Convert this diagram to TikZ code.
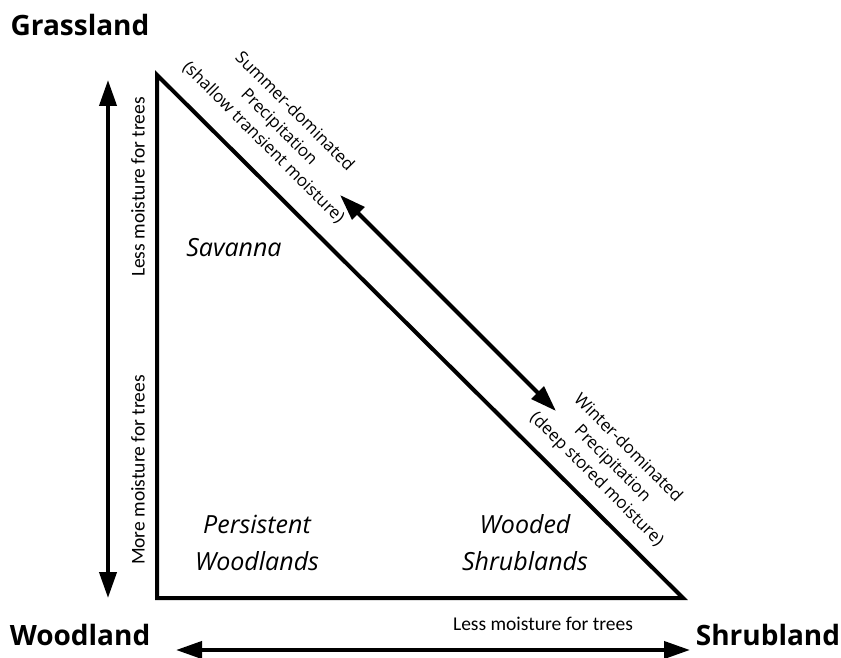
\documentclass[tikz,border=0pt]{standalone}
\usepackage{fontspec}
\setmainfont{Open Sans}
\newfontfamily\calfont{Carlito}
\usetikzlibrary{arrows.meta}
\begin{document}
\begin{tikzpicture}[x=1pt, y=-1pt,
  every node/.style={inner sep=0pt},
  biome/.style={font=\fontsize{28}{30}\selectfont\bfseries},
  zone/.style={font=\fontsize{25}{37}\selectfont\itshape, align=center},
  rain/.style={font=\fontsize{17}{22}\selectfont, align=center, rotate=-45},
  moist/.style={font=\calfont\fontsize{19.5}{21}\selectfont},
  gradient/.style={line width=4pt, {Triangle[length=26pt,width=17pt]}-{Triangle[length=26pt,width=17pt]}}]
\useasboundingbox (0,0) rectangle (841,658);
% triangle corners
\coordinate (gr) at (157,75);
\coordinate (wd) at (157,598);
\coordinate (sh) at (683,598);
\draw[line width=4pt, line join=miter] (gr) -- (wd) -- (sh) -- cycle;
% corner labels
\node[biome] (grass) at (80,25) {Grassland};
\node[biome] (wood) at (80,635) {Woodland};
\node[biome] (shrub) at (768,635) {Shrubland};
% vegetation types
\node[zone] (sav) at (234,248) {Savanna};
\node[zone] (pers) at (257,543) {Persistent\\Woodlands};
\node[zone] (wshr) at (525,543) {Wooded\\Shrublands};
% moisture gradients
\coordinate (vtop) at (108,80);
\coordinate (vbot) at (108,598);
\draw[gradient] (vtop) -- (vbot);
\node[moist, rotate=90] (vless) at (138,187) {Less moisture for trees};
\node[moist, rotate=90] (vmore) at (138,470) {More moisture for trees};
\coordinate (hleft) at (176,650);
\coordinate (hright) at (690,650);
\draw[gradient] (hleft) -- (hright);
\node[moist] (hless) at (543,624) {Less moisture for trees};
% precipitation regime
\coordinate (ptop) at (340,195);
\coordinate (pbot) at (556,411);
\draw[gradient] (ptop) -- (pbot);
\node[rain] (summer) at (279,127) {Summer-dominated\\Precipitation\\(shallow transient moisture)};
\node[rain] (winter) at (612,464) {Winter-dominated\\Precipitation\\(deep stored moisture)};
\end{tikzpicture}
\end{document}
